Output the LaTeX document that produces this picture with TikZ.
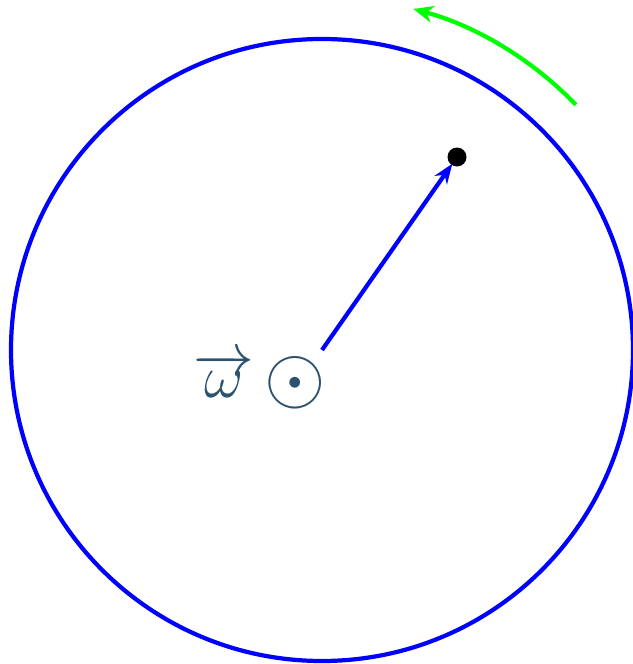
\documentclass[tikz,border=0pt]{standalone}
\usepackage{tikz}
\usepackage{xcolor}
\usetikzlibrary{arrows.meta, calc}
\definecolor{axis-slate}{RGB}{44,82,112}

\begin{document}
\begin{tikzpicture}[
  orbit/.style={draw=blue, line width=1.2pt},
  radiusvec/.style={draw=blue, line width=1.2pt, -{Stealth[length=0.2cm, width=0.15cm]}},
  spin/.style={draw=green, line width=1.2pt, -{Stealth[length=0.2cm, width=0.17cm]}},
  mass/.style={circle, fill=black, minimum size=0.19cm, inner sep=0pt},
  axislabel/.style={text=axis-slate, font=\fontsize{18}{22}\selectfont, inner sep=0pt},
]
  \useasboundingbox (-3.22,-3.14) rectangle (3.10,3.50);

  % Centre and circular path
  \coordinate (O) at (0,0);
  \draw[orbit] (O) circle[radius=3.11];

  % Point on the path and its position vector
  \node[mass] (point) at (1.35,1.93) {};
  \draw[radiusvec, shorten >=-0.02cm] (O) -- (point);

  % Sense of rotation
  \draw[spin] ($(O)+(44:3.53)$) arc[start angle=44, end angle=75, radius=3.53];

  % Angular velocity out of the page
  \node[axislabel] (omega) at (-0.62,-0.31) {$\overrightarrow{\omega}\,\vcenter{\hbox{\scalebox{1.3}{$\odot$}}}$};
\end{tikzpicture}
\end{document}
